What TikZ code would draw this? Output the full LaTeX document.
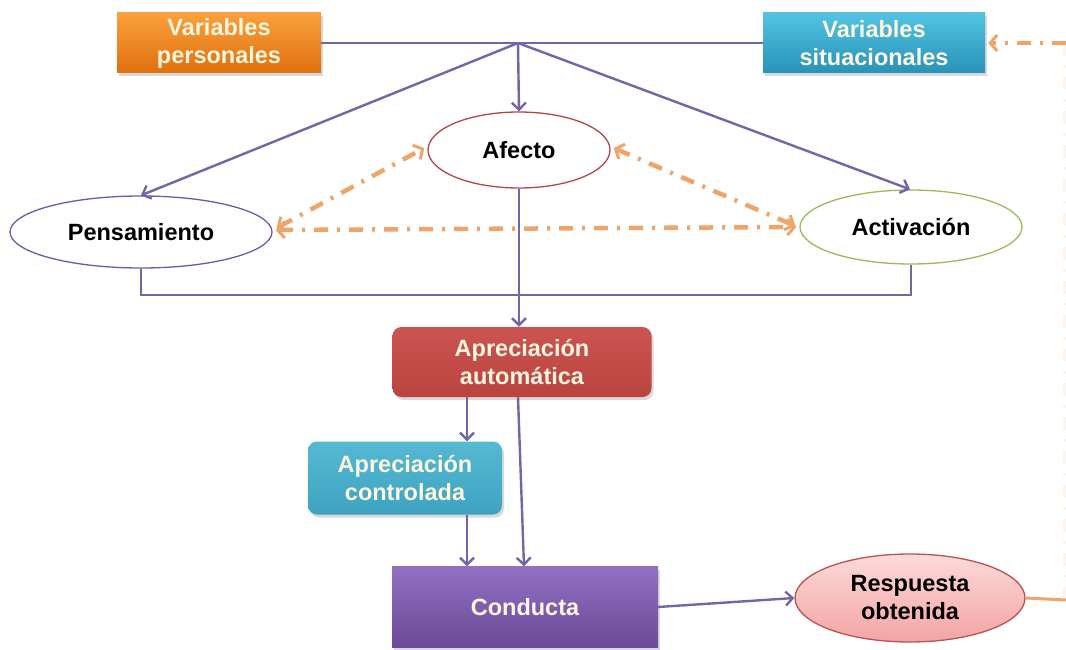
\documentclass[tikz,border=0pt]{standalone}
\usepackage{fontspec}
\setmainfont{Liberation Sans}
\usetikzlibrary{shapes.geometric,arrows.meta,shadows}
\definecolor{linepur}{HTML}{7465A8}
\definecolor{dashor}{HTML}{EFA56A}
\definecolor{orT}{HTML}{F9A03C}
\definecolor{orB}{HTML}{E0700E}
\definecolor{tlT}{HTML}{52C3E2}
\definecolor{tlB}{HTML}{2893B8}
\definecolor{rdT}{HTML}{CC5452}
\definecolor{rdB}{HTML}{B9443F}
\definecolor{ctT}{HTML}{55B9D2}
\definecolor{ctB}{HTML}{3DA3C0}
\definecolor{cdT}{HTML}{9270C2}
\definecolor{cdB}{HTML}{6C4A99}
\definecolor{pkT}{HTML}{FCDADA}
\definecolor{pkB}{HTML}{F4A4A4}
\definecolor{pkD}{HTML}{B85450}
\definecolor{afD}{HTML}{B0464A}
\definecolor{acD}{HTML}{9BBB59}
\definecolor{peD}{HTML}{6B5CA5}
\definecolor{lt}{HTML}{FFF6E0}
\begin{document}
\begin{tikzpicture}[x=1pt,y=-1pt,
  lbl/.style={font=\bfseries\fontsize{23.5}{28}\selectfont, align=center},
  boxn/.style={lbl, rectangle, inner sep=0pt, text=lt,
    drop shadow={shadow xshift=2pt, shadow yshift=-3pt, opacity=0.3}},
  ell/.style={lbl, ellipse, inner sep=0pt, line width=1.3pt, fill=white, text=black},
  con/.style={draw=linepur, line width=2.4pt},
  arr/.style={con, -{Straight Barb[length=7pt,width=14pt,line width=2.4pt]}},
  oda/.style={draw=dashor, line width=4.5pt, dash pattern=on 14pt off 9pt on 3pt off 9pt},
  obi/.style={oda, {Straight Barb[length=7pt,width=16pt,line width=3pt]}-{Straight Barb[length=7pt,width=16pt,line width=3pt]}},
  oar/.style={oda, -{Straight Barb[length=7pt,width=16pt,line width=3pt]}}]
\useasboundingbox (0,0) rectangle (1066,650);

% nodes
\node[boxn, minimum width=204pt, minimum height=60pt, top color=orT, bottom color=orB] (vp) at (219,43) {Variables\\personales};
\node[boxn, minimum width=222pt, minimum height=60pt, top color=tlT, bottom color=tlB] (vs) at (874,43) {Variables\\situacionales};
\node[ell, draw=afD, minimum width=182pt, minimum height=76pt] (af) at (519,150) {Afecto};
\node[ell, draw=peD, minimum width=262pt, minimum height=72pt] (pe) at (141,232) {Pensamiento};
\node[ell, draw=acD, minimum width=222pt, minimum height=74pt] (ac) at (911,227) {Activación};
\node[boxn, rounded corners=9pt, minimum width=259pt, minimum height=70pt, top color=rdT, bottom color=rdB] (aa) at (522,362) {Apreciación\\automática};
\node[boxn, rounded corners=9pt, minimum width=194pt, minimum height=73pt, top color=ctT, bottom color=ctB] (ctl) at (405,478) {Apreciación\\controlada};
\node[boxn, minimum width=266pt, minimum height=81pt, top color=cdT, bottom color=cdB] (co) at (525,607) {Conducta};
\node[ell, draw=pkD, top color=pkT, bottom color=pkB, minimum width=230pt, minimum height=88pt] (re) at (910,598) {Respuesta\\obtenida};

\coordinate (J) at (518,43);
\coordinate (R1) at (1066,43);
\coordinate (R2) at (1066,600);
\coordinate (fb) at (141,295);

% connectors
\draw[con] (vp.east) -- (vs.west);
\draw[arr] (J) -- (af.north);
\draw[arr] (J) -- (pe.north);
\draw[arr] (J) -- ([xshift=-1pt]ac.north);
\draw[con] (pe.south) -- (fb) -| (ac.south);
\draw[arr] (af.south) -- (af.south |- aa.north);
\draw[arr] ([xshift=-55pt]aa.south) -- ([xshift=62pt]ctl.north);
\draw[arr] ([xshift=-4pt]aa.south) -- ([xshift=-1pt]co.north);
\draw[arr] ([xshift=62pt]ctl.south) -- ([xshift=-58pt]co.north);
\draw[arr] (co.east) -- (re.west);

% orange dashed relations
\draw[obi] ([xshift=3pt,yshift=2pt]pe.east) -- ([xshift=-3pt]ac.west);
\draw[obi] ([xshift=4pt,yshift=4pt]pe.east) -- ([xshift=-3pt,yshift=2pt]af.west);
\draw[obi] ([xshift=3pt,yshift=2pt]af.east) -- ([xshift=-4pt,yshift=1pt]ac.west);
\draw[draw=dashor, line width=3pt] (re.east) -- (R2);
\draw[oar] (R1) -- ([xshift=3pt]vs.east);
\draw[draw=dashor, opacity=0.12, line width=3pt, dash pattern=on 13pt off 9pt on 3pt off 9pt] ([xshift=-2pt]R1) -- ([xshift=-2pt]R2);
\end{tikzpicture}
\end{document}
